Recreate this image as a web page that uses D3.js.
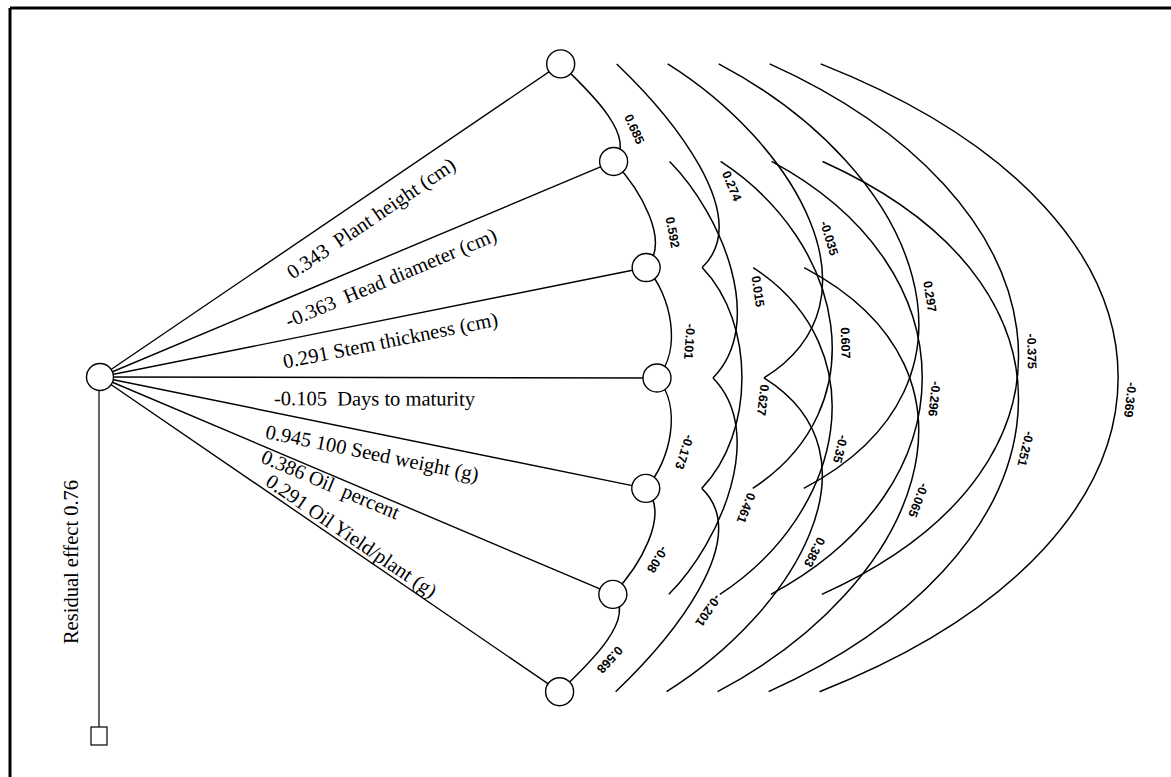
<!DOCTYPE html>
<html lang="en">
<head>
<meta charset="UTF-8">
<title>Path diagram - direct effects and correlations</title>
<script src="https://d3js.org/d3.v7.min.js"></script>
<style>
    body { margin: 0; background: #fff; }
    svg { display: block; }
    .spoke-label, .residual-label {
        font-family: "Liberation Serif", "Times New Roman", serif;
        font-size: 20.5px;
        white-space: pre;
    }
    .r-label {
        font-family: "Liberation Sans", Arial, sans-serif;
        font-size: 12.5px;
        font-weight: bold;
    }
</style>
</head>
<body>
<svg width="1171" height="777"></svg>
<script>
    // traits, top to bottom on the fan
    const traits = ["Plant height (cm)", "Head diameter (cm)", "Stem thickness (cm)",
        "Days to maturity", "100 Seed weight (g)", "Oil  percent", "Oil Yield/plant (g)"];
    const directEffects = [0.343, -0.363, 0.291, -0.105, 0.945, 0.386, 0.291];
    const labelSep = ["  ", "  ", " ", "  ", " ", " ", " "];
    const residualEffect = 0.76;

    // correlation arcs between traits (1-based trait numbers)
    const corrFrom = [1, 2, 3, 4, 5, 6, 1, 2, 3, 4, 5, 1, 2, 3, 4, 1, 2, 3, 1, 2, 1];
    const corrTo   = [2, 3, 4, 5, 6, 7, 3, 4, 5, 6, 7, 4, 5, 6, 7, 5, 6, 7, 6, 7, 7];
    const corrR    = [0.685, 0.592, -0.101, -0.173, -0.08, 0.568,
        0.274, 0.015, 0.627, 0.461, -0.201,
        -0.035, 0.607, -0.35, 0.383,
        0.297, -0.296, -0.065,
        -0.375, -0.251,
        -0.369];

    const svg = d3.select("svg");

    // layout
    const hub = { x: 100, y: 377 };
    const fanRadius = 557;
    const angle = d3.scaleLinear().domain([0, traits.length - 1]).range([-34.2, 34.4]);
    const shift = d3.scaleLinear().domain([2, 6]).range([56, 260]);      // arc end offset by span
    const bulge = d3.scaleLinear().domain([1, 2, 3, 4, 5, 6]).range([19, 40, 94, 151, 221, 298]);
    const labelF = d3.scaleLinear().domain([1, 2, 3, 6]).range([0.67, 0.6, 0.555, 0.535]).clamp(true);
    const labelGap = d3.scaleThreshold().domain([2, 3]).range([18, 22, 13]);
    // where each trait label starts and how far it hangs under its spoke
    const labelStartX = [277, 278, 279, 274, 270, 266, 262];
    const labelDrop = [28, 28, 28, 28, 27, 16, -4];

    const nodes = traits.map((t, i) => {
        const a = angle(i) * Math.PI / 180;
        return { x: hub.x + fanRadius * Math.cos(a), y: hub.y + fanRadius * Math.sin(a), deg: angle(i) };
    });

    function anchor(k, span) {
        const n = nodes[k - 1];
        return span === 1 ? { x: n.x, y: n.y } : { x: n.x + shift(span), y: n.y };
    }

    // frame (only top and left edges survive in the original)
    svg.append("line").attr("x1", 10).attr("y1", 8).attr("x2", 1171).attr("y2", 8)
        .attr("stroke", "#000").attr("stroke-width", 3);
    svg.append("line").attr("x1", 10).attr("y1", 8).attr("x2", 10).attr("y2", 777)
        .attr("stroke", "#000").attr("stroke-width", 3);

    // spokes from the hub to every trait
    svg.selectAll(".spoke").data(nodes).enter().append("line")
        .attr("class", "spoke")
        .attr("x1", hub.x).attr("y1", hub.y)
        .attr("x2", d => d.x).attr("y2", d => d.y)
        .attr("stroke", "#000").attr("stroke-width", 1.4);

    // correlation arcs
    const arcs = corrR.map((r, i) => {
        const span = corrTo[i] - corrFrom[i];
        const A = anchor(corrFrom[i], span), B = anchor(corrTo[i], span);
        const h = bulge(span) * 4 / 3, dy = 0.25 * (B.y - A.y);
        const C1 = { x: A.x + h, y: A.y + dy }, C2 = { x: B.x + h, y: B.y - dy };
        return { r, span, A, B, C1, C2 };
    });

    function bez(d, t) {
        const u = 1 - t;
        const p = k => u * u * u * d.A[k] + 3 * u * u * t * d.C1[k] + 3 * u * t * t * d.C2[k] + t * t * t * d.B[k];
        const q = k => 3 * u * u * (d.C1[k] - d.A[k]) + 6 * u * t * (d.C2[k] - d.C1[k]) + 3 * t * t * (d.B[k] - d.C2[k]);
        return { x: p("x"), y: p("y"), dx: q("x"), dy: q("y") };
    }

    // point of the arc at a given height (y grows monotonically along each arc)
    function atY(d, y) {
        let lo = 0, hi = 1;
        for (let n = 0; n < 40; n++) {
            const mid = (lo + hi) / 2;
            if (bez(d, mid).y < y) lo = mid; else hi = mid;
        }
        return bez(d, (lo + hi) / 2);
    }

    svg.selectAll(".corr").data(arcs).enter().append("path")
        .attr("class", "corr")
        .attr("d", d => {
            const p = d3.path();
            p.moveTo(d.A.x, d.A.y);
            p.bezierCurveTo(d.C1.x, d.C1.y, d.C2.x, d.C2.y, d.B.x, d.B.y);
            return p.toString();
        })
        .attr("fill", "none").attr("stroke", "#000").attr("stroke-width", 1.5);

    svg.selectAll(".r-label").data(arcs).enter().append("text")
        .attr("class", "r-label")
        .attr("text-anchor", "middle")
        .attr("dominant-baseline", "central")
        .attr("transform", d => {
            const b = atY(d, d.A.y + labelF(d.span) * (d.B.y - d.A.y));
            const rot = Math.atan2(b.dy, b.dx) * 180 / Math.PI;
            return `translate(${b.x + labelGap(d.span)},${b.y}) rotate(${rot})`;
        })
        .text(d => String(d.r));

    // trait circles
    svg.selectAll(".node").data(nodes).enter().append("circle")
        .attr("class", "node")
        .attr("cx", d => d.x).attr("cy", d => d.y).attr("r", 14)
        .attr("fill", "#fff").attr("stroke", "#000").attr("stroke-width", 1.4);

    // spoke labels: direct effect + trait name along each spoke
    svg.selectAll(".spoke-label").data(nodes).enter().append("text")
        .attr("class", "spoke-label")
        .attr("transform", (d, i) => {
            const a = d.deg * Math.PI / 180;
            const dist = (labelStartX[i] - hub.x) / Math.cos(a);
            return `translate(${hub.x + dist * Math.cos(a)},${hub.y + dist * Math.sin(a)}) rotate(${d.deg})`;
        })
        .attr("y", (d, i) => labelDrop[i])
        .text((d, i) => directEffects[i] + labelSep[i] + traits[i]);

    // residual
    svg.append("line").attr("x1", hub.x - 1).attr("y1", hub.y).attr("x2", hub.x - 1).attr("y2", 727)
        .attr("stroke", "#000").attr("stroke-width", 1.2);
    svg.append("rect").attr("x", hub.x - 9).attr("y", 727).attr("width", 16).attr("height", 18)
        .attr("fill", "#fff").attr("stroke", "#000").attr("stroke-width", 1.2);
    svg.append("circle").attr("cx", hub.x).attr("cy", hub.y).attr("r", 13.5)
        .attr("fill", "#fff").attr("stroke", "#000").attr("stroke-width", 1.4);
    svg.append("text").attr("class", "residual-label")
        .attr("transform", "translate(78,562) rotate(-90)")
        .attr("text-anchor", "middle")
        .text("Residual effect " + residualEffect);
</script>
</body>
</html>
